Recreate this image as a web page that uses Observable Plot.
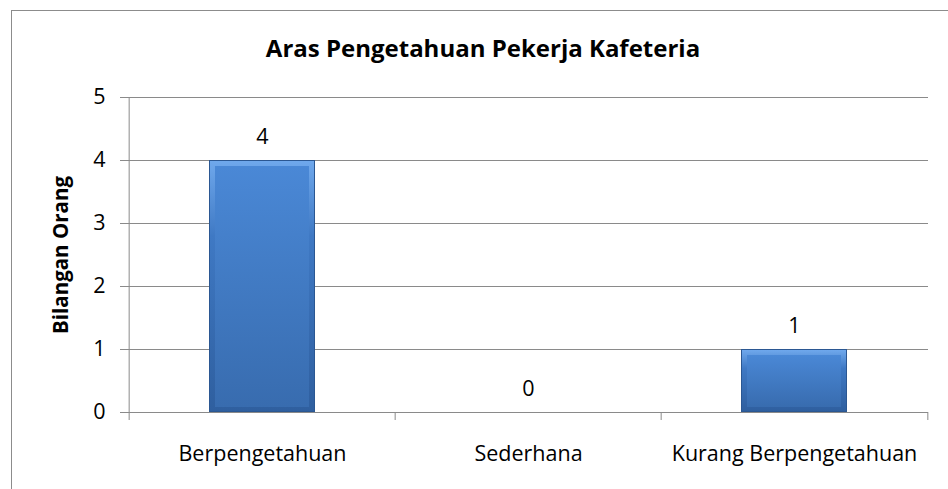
<!DOCTYPE html>
<html>
<head>
<meta charset="utf-8">
<script src="https://cdn.jsdelivr.net/npm/d3@7"></script>
<script src="https://cdn.jsdelivr.net/npm/@observablehq/plot@0.6"></script>
<style>
  html, body { margin: 0; padding: 0; background: #fff; }
  #wrap { position: relative; width: 948px; height: 489px; overflow: hidden; font-family: "Open Sans", sans-serif; }
  #frame { position: absolute; left: 11px; top: 10px; width: 1000px; height: 1000px; border-left: 1.5px solid #8c8c8c; border-top: 1.5px solid #8c8c8c; box-sizing: border-box; }
  #title { position: absolute; left: 0; width: 966px; top: 32px; line-height: 32px; text-align: center; font-weight: bold; font-size: 24px; color: #000; }
  #chart { position: absolute; left: 0; top: 0; }
</style>
</head>
<body>
<div id="wrap">
  <div id="frame"></div>
  <div id="chart"></div>
  <div id="title">Aras Pengetahuan Pekerja Kafeteria</div>
</div>
<script>
const categories = ["Berpengetahuan", "Sederhana", "Kurang Berpengetahuan"];
const counts = [4, 0, 1];
const yTicks = [0, 1, 2, 3, 4, 5];
const yLabel = "Bilangan Orang";

const data = categories.map((c, i) => ({cat: c, n: counts[i]}));

const W = 948, H = 489, mL = 128, mR = 20, mT = 97, mB = 77;
const step = (W - mL - mR) / categories.length;
const grey = "#8a8a8a";
const fs = 21.5;

const chart = Plot.plot({
  width: W, height: H,
  marginLeft: mL, marginRight: mR, marginTop: mT, marginBottom: mB,
  style: {fontFamily: "'Open Sans', sans-serif", fontSize: fs + "px", color: "#000", background: "transparent", overflow: "visible"},
  x: {domain: categories, paddingInner: 0.6, paddingOuter: 0.3, axis: null},
  y: {domain: [0, 5], axis: null},
  marks: [
    Plot.gridY(yTicks, {stroke: grey, strokeOpacity: 1}),
    Plot.axisY(yTicks, {tickSize: 8, tickPadding: 15, tickFormat: "d", stroke: grey, strokeOpacity: 1, label: null, fontSize: fs, fill: "#000"}),
    Plot.ruleY([0], {stroke: grey}),
    Plot.ruleX([categories[0]], {x: d => d, dx: -step / 2, y1: 5, y2: 0, insetBottom: -8, stroke: grey}),
    Plot.ruleX(categories.slice(1), {x: d => d, dx: -step / 2, y1: 0, y2: 0, insetBottom: -8, stroke: grey}),
    Plot.ruleX([categories[categories.length - 1]], {x: d => d, dx: step / 2, y1: 0, y2: 0, insetBottom: -8, stroke: grey}),
    Plot.barY(data, {x: "cat", y: "n", fill: "#2b5792"}),
    Plot.barY(data, {x: "cat", y: "n", fill: "url(#bevelGrad)", inset: 1}),
    Plot.barY(data, {x: "cat", y: "n", fill: "url(#bodyGrad)", insetLeft: 6, insetRight: 6, insetTop: 6, insetBottom: 5}),
    Plot.text(data, {x: "cat", y: "n", text: d => String(d.n), dy: -23, fontSize: fs, fill: "#000"}),
    Plot.text(categories, {x: d => d, frameAnchor: "bottom", dy: 48, fontSize: fs, fill: "#000"}),
    Plot.text([yLabel], {frameAnchor: "left", textAnchor: "middle", dx: -67, rotate: -90, fontWeight: "bold", fontSize: 20.5, fill: "#000"})
  ]
});

const svg = d3.select(chart);
const defs = svg.insert("defs", ":first-child");
const bevel = defs.append("linearGradient").attr("id", "bevelGrad").attr("x1", 0).attr("y1", 0).attr("x2", 0).attr("y2", 1);
bevel.append("stop").attr("offset", "0%").attr("stop-color", "#6fa8ec");
bevel.append("stop").attr("offset", "30%").attr("stop-color", "#3f79c4");
bevel.append("stop").attr("offset", "100%").attr("stop-color", "#2f5f9f");
const body = defs.append("linearGradient").attr("id", "bodyGrad").attr("x1", 0).attr("y1", 0).attr("x2", 0).attr("y2", 1);
body.append("stop").attr("offset", "0%").attr("stop-color", "#4a88d6");
body.append("stop").attr("offset", "100%").attr("stop-color", "#386caf");

document.getElementById("chart").appendChild(chart);
</script>
</body>
</html>
